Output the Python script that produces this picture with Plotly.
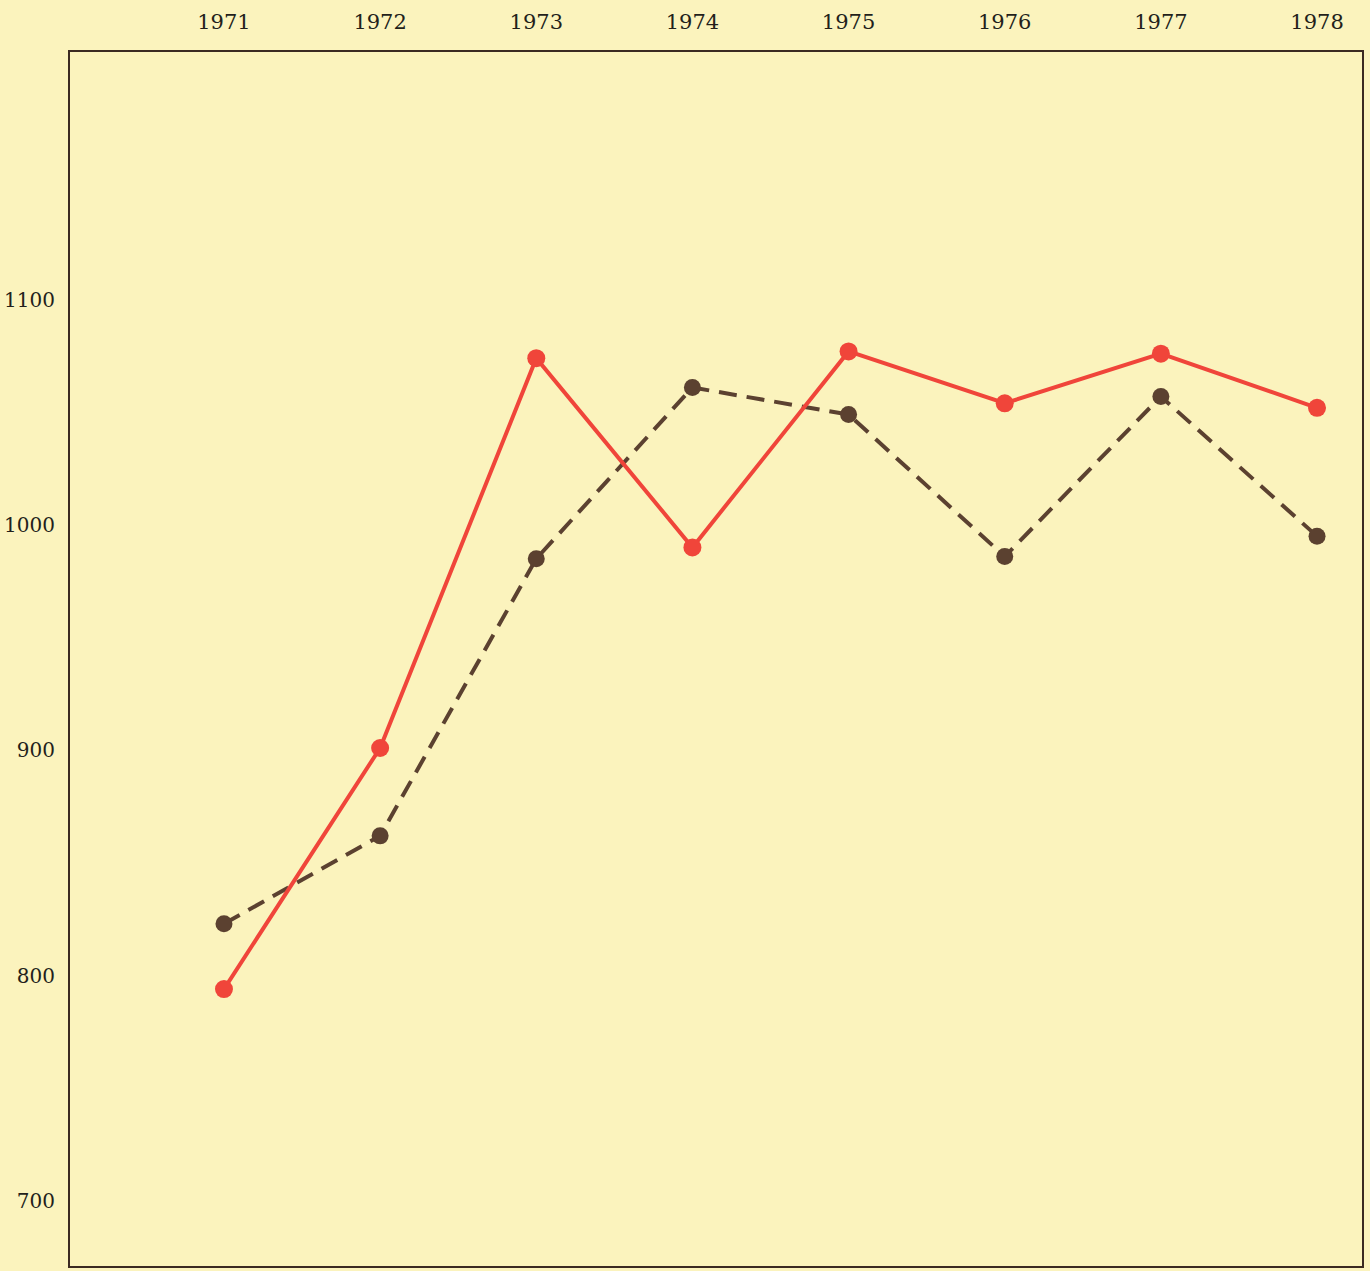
import plotly.graph_objects as go

years = [1971, 1972, 1973, 1974, 1975, 1976, 1977, 1978]
red_series = [794, 901, 1074, 990, 1077, 1054, 1076, 1052]
dark_series = [823, 862, 985, 1061, 1049, 986, 1057, 995]
y_ticks = [700, 800, 900, 1000, 1100]

BG = "#FBF3BD"
RED = "#F0453A"
DARK = "#5B4130"
AXIS = "#3B2A22"
FONT = dict(family="DejaVu Serif", size=21, color="#231F1B")

fig = go.Figure()
fig.add_trace(go.Scatter(
    x=years, y=dark_series, mode="lines+markers",
    line=dict(color=DARK, width=4, dash="18px,10px"),
    marker=dict(color=DARK, size=17), showlegend=False,
))
fig.add_trace(go.Scatter(
    x=years, y=red_series, mode="lines+markers",
    line=dict(color=RED, width=4),
    marker=dict(color=RED, size=18), showlegend=False,
))

fig.update_layout(
    width=1370, height=1271,
    margin=dict(l=70, r=8, t=52, b=3),
    paper_bgcolor=BG, plot_bgcolor=BG,
    font=FONT,
    hovermode=False,
    xaxis=dict(
        side="top", range=[1970.014, 1978.288],
        tickmode="array", tickvals=years, ticktext=[str(y) for y in years],
        showgrid=False, zeroline=False, ticks="",
        ticklabelstandoff=13,
        showline=True, mirror=True, linecolor=AXIS, linewidth=2,
    ),
    yaxis=dict(
        range=[671.1, 1209.9],
        tickmode="array", tickvals=y_ticks, ticktext=[str(v) for v in y_ticks],
        tickfont=dict(size=20),
        showgrid=False, zeroline=False, ticks="",
        ticklabelstandoff=9,
        showline=True, mirror=True, linecolor=AXIS, linewidth=2,
    ),
)

# remove the default page margin so the figure fills the window
fig.write_html(
    "out.html",
    config={"displayModeBar": False},
    post_script="document.body.style.margin='0';document.body.style.background='#FBF3BD';",
)
